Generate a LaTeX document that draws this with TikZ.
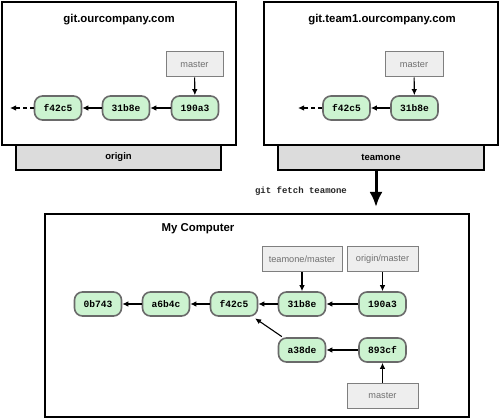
\documentclass[tikz,border=0pt]{standalone}
\usepackage{fontspec}
\usepackage{tikz}
\usetikzlibrary{arrows.meta}
\newfontfamily\headfont{Liberation Sans}
\newfontfamily\hashfont{Liberation Mono}

\definecolor{commitfill}{HTML}{CCF3D0}
\definecolor{commitline}{HTML}{6A6A6A}
\definecolor{reffill}{HTML}{EEEEEE}
\definecolor{refline}{HTML}{7F7F7F}
\definecolor{reftext}{HTML}{6F6F6F}
\definecolor{barfill}{HTML}{DCDCDC}

\begin{document}
\begin{tikzpicture}[x=1pt,y=-1pt,>={Latex[length=6pt,width=5.5pt]},
	commit/.style={draw=commitline, fill=commitfill, line width=1.6pt, rounded corners=8pt, minimum width=47pt, minimum height=24pt, inner sep=0pt, font=\hashfont\bfseries\fontsize{9.6}{10}\selectfont},
	branch/.style={draw=refline, fill=reffill, line width=1pt, minimum height=25pt, inner sep=0pt, text=reftext, font=\headfont\fontsize{9.2}{10}\selectfont},
	server/.style={draw, fill=white, line width=1.4pt, inner sep=0pt},
	serverbar/.style={draw, fill=barfill, line width=1.4pt, minimum height=25pt, inner sep=0pt, font=\headfont\bfseries\fontsize{9.5}{11}\selectfont},
	title/.style={font=\headfont\bfseries\fontsize{11.4}{13}\selectfont},
	link/.style={->, line width=1.1pt}]
			\useasboundingbox (0,0) rectangle (500,419);
			
			% origin server
			\node[serverbar, minimum width=205pt] (origin) at (118.5,157.5) {origin};
			\node[server, minimum width=234pt, minimum height=143pt] (ourbox) at (119,73.5) {};
			\node[title] (ourtitle) at (119,20) {git.ourcompany.com};
			\node[commit] (of42c5) at (58,108) {f42c5};
			\node[commit] (o31b8e) at (126,108) {31b8e};
			\node[commit] (o190a3) at (195,108) {190a3};
			\node[branch, minimum width=57pt] (omaster) at (194.5,64.5) {master};
			\coordinate (oend) at (10,108);
			
			\draw[link] (omaster) -- (o190a3);
			\draw[link] (o190a3) -- (o31b8e);
			\draw[link] (o31b8e) -- (of42c5);
			\draw[link,dash pattern=on 4pt off 3pt] (of42c5) -- (oend);
			
			% teamone server
			\node[serverbar, minimum width=206pt] (teamone) at (381,157.5) {teamone};
			\node[server, minimum width=234pt, minimum height=143pt] (teambox) at (381,73.5) {};
			\node[title] (teamtitle) at (382,20) {git.team1.ourcompany.com};
			\node[commit] (tf42c5) at (346.5,108) {f42c5};
			\node[commit] (t31b8e) at (414.5,108) {31b8e};
			\node[branch, minimum width=58pt] (tmaster) at (414,64.5) {master};
			\coordinate (tend) at (298,108);
			
			\draw[link] (tmaster) -- (t31b8e);
			\draw[link] (t31b8e) -- (tf42c5);
			\draw[link,dash pattern=on 4pt off 3pt] (tf42c5) -- (tend);
			
			% fetch
			\coordinate (fetchend) at (376,207);
			\draw[line width=3pt,-{Latex[length=15pt,width=13pt]}] ([xshift=-5pt]teamone.south) -- (fetchend);
			\node[font=\hashfont\bfseries\fontsize{9}{10}\selectfont, text=black!85] (fetchcmd) at (301,191) {git fetch teamone};
			
			% my computer
			\node[server, minimum width=424pt, minimum height=203pt] (mybox) at (257,315.5) {};
			\node[title] (mytitle) at (198,229) {My Computer};
			\node[commit] (m0b743) at (98,304) {0b743};
			\node[commit] (ma6b4c) at (166,304) {a6b4c};
			\node[commit] (mf42c5) at (234,304) {f42c5};
			\node[commit] (m31b8e) at (302,304) {31b8e};
			\node[commit] (m190a3) at (382.5,304) {190a3};
			\node[commit] (ma38de) at (302,350) {a38de};
			\node[commit] (m893cf) at (382.5,350) {893cf};
			\node[branch, minimum width=80pt] (teamonemaster) at (302,259.5) {teamone/master};
			\node[branch, minimum width=71pt] (originmaster) at (382.5,259.5) {origin/master};
			\node[branch, minimum width=71pt] (mmaster) at (382.5,395.5) {master};
			
			\draw[link] (teamonemaster) -- (m31b8e);
			\draw[link] (originmaster) -- (m190a3);
			\draw[link] (mmaster) -- (m893cf);
			\draw[link] (m190a3) -- (m31b8e);
			\draw[link] (m31b8e) -- (mf42c5);
			\draw[link] (mf42c5) -- (ma6b4c);
			\draw[link] (ma6b4c) -- (m0b743);
			\draw[link] (m893cf) -- (ma38de);
			\draw[link,shorten <=1pt,shorten >=1pt] ([xshift=5pt]ma38de.north west) -- ([xshift=-4pt,yshift=-1pt]mf42c5.south east);
\end{tikzpicture}
\end{document}
